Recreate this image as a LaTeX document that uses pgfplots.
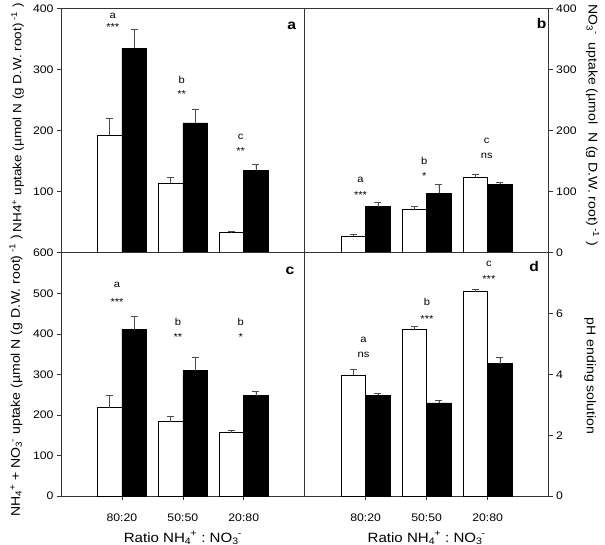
\documentclass[border=0pt]{standalone}
\usepackage{fontspec}
\setmainfont{Liberation Sans}[FakeStretch=1.12]
\usepackage{pgfplots}
\pgfplotsset{compat=1.18}
\newcommand{\subsup}[2]{\textsubscript{#1}\kern-0.06em\textsuperscript{#2}}
\pgfplotsset{
  panel/.style={scale only axis, xmin=0, xmax=4,
    axis line style={draw=black!80, line width=0.7pt},
    tick align=outside, major tick length=4bp,
    tick style={draw=black!80, line width=0.6pt},
    ticklabel style={font=\fontsize{11}{13}\selectfont},
    xticklabel style={yshift=-10bp},
    /pgf/number format/assume math mode=true,
    label style={font=\fontsize{12.6}{15}\selectfont},
    ybar, bar width=0.4, clip=false,
    error bars/y dir=plus, error bars/y explicit,
    error bars/error bar style={draw=black!70, line width=0.6pt},
    error bars/error mark options={rotate=90, draw=black!70, line width=0.6pt, mark size=3.5bp}},
  wb/.style={fill=white, draw=black, line width=0.6pt, bar shift=-0.2},
  bb/.style={fill=black, draw=black, line width=0.6pt, bar shift=0.2},
  xlab/.style={xlabel={Ratio NH\subsup{4}{+}\ :\ NO\subsup{3}{-}},
    xlabel style={at={(axis description cs:0.5,-0.172)}, anchor=center, font=\fontsize{13.5}{15}\selectfont}},
}
\tikzset{
  ann/.style={font=\fontsize{10}{12}\selectfont, anchor=base, inner sep=0pt},
  plab/.style={font=\bfseries\fontsize{14}{16}\selectfont}
}
\begin{document}
\begin{tikzpicture}
\useasboundingbox (0,0) rectangle (605bp,545bp);
% panel a
\begin{axis}[panel, at={(61bp,292.3bp)}, anchor=south west, width=243.7bp, height=244.4bp,
  ymin=0, ymax=400, ytick={100,200,300,400}, ytick pos=left, xtick=\empty,
  ylabel={NH4\textsuperscript{+} uptake (µmol N (g D.W. root)\textsuperscript{ -1} )},
  ylabel style={at={(axis description cs:-0.178,0.552)}, anchor=center, font=\fontsize{12.1}{15}\selectfont}]
\addplot[wb] coordinates {(1,192) +- (0,28) (2,114) +- (0,9) (3,32.7) +- (0,3)};
\addplot[bb] coordinates {(1,335) +- (0,30) (2,212.5) +- (0,22) (3,134.7) +- (0,10)};
\node[ann] at (axis cs:0.85,383.7) {a};
\node[ann] at (axis cs:0.85,362.9) {***};
\node[ann] at (axis cs:1.98,277) {b};
\node[ann] at (axis cs:1.98,253.8) {**};
\node[ann] at (axis cs:2.95,185) {c};
\node[ann] at (axis cs:2.95,160) {**};
\node[plab] at (rel axis cs:0.947,0.93) {a};
\end{axis}
% panel b
\begin{axis}[panel, at={(304.7bp,292.3bp)}, anchor=south west, width=244bp, height=244.4bp,
  ymin=0, ymax=400, ytick={0,100,200,300,400}, ytick pos=right, yticklabel pos=right, xtick=\empty,
  ylabel={NO\subsup{3}{-}\ \ uptake (µmol \ N (g D.W. root)\textsuperscript{ -1} )},
  ylabel style={at={(axis description cs:1.18,0.52)}, anchor=center, rotate=180}]
\addplot[wb] coordinates {(1,26.8) +- (0,3.8) (2,70.3) +- (0,5.5) (3,124.2) +- (0,4.4)};
\addplot[bb] coordinates {(1,75.2) +- (0,7.7) (2,97.1) +- (0,14.7) (3,112.3) +- (0,2.8)};
\node[ann] at (axis cs:0.915,114.4) {a};
\node[ann] at (axis cs:0.915,88.8) {***};
\node[ann] at (axis cs:1.96,144) {b};
\node[ann] at (axis cs:1.96,119.3) {*};
\node[ann] at (axis cs:2.985,178.6) {c};
\node[ann] at (axis cs:2.985,153.6) {ns};
\node[plab] at (rel axis cs:0.971,0.939) {b};
\end{axis}
% panel c
\begin{axis}[panel, xlab, at={(61bp,49bp)}, anchor=south west, width=243.7bp, height=243.3bp,
  ymin=0, ymax=600, ytick={0,100,200,300,400,500,600}, ytick pos=left,
  xtick={1,2,3}, xticklabels={80:20,50:50,20:80}, xtick pos=left,
  ylabel={NH\subsup{4}{+} + NO\subsup{3}{-} uptake (µmol N (g D.W. root)\textsuperscript{ -1} )},
  ylabel style={at={(axis description cs:-0.185,0.495)}, anchor=center}]
\addplot[wb] coordinates {(1,217.8) +- (0,29.5) (2,183.2) +- (0,12.4) (3,156.1) +- (0,6)};
\addplot[bb] coordinates {(1,410) +- (0,32) (2,309) +- (0,34) (3,247.3) +- (0,11.7)};
\node[ann] at (axis cs:0.92,515.4) {a};
\node[ann] at (axis cs:0.92,469.4) {***};
\node[ann] at (axis cs:1.92,419.5) {b};
\node[ann] at (axis cs:1.92,383.5) {**};
\node[ann] at (axis cs:2.95,419.5) {b};
\node[ann] at (axis cs:2.95,383.5) {*};
\node[plab] at (rel axis cs:0.94,0.926) {c};
\end{axis}
% panel d
\begin{axis}[panel, xlab, at={(304.7bp,49bp)}, anchor=south west, width=244bp, height=243.3bp,
  ymin=0, ymax=8, ytick={0,2,4,6}, ytick pos=right, yticklabel pos=right,
  xtick={1,2,3}, xticklabels={80:20,50:50,20:80}, xtick pos=left,
  ylabel={pH ending solution},
  ylabel style={at={(axis description cs:1.17,0.493)}, anchor=center, rotate=180}]
\addplot[wb] coordinates {(1,3.97) +- (0,0.2) (2,5.47) +- (0,0.11) (3,6.72) +- (0,0.09)};
\addplot[bb] coordinates {(1,3.31) +- (0,0.07) (2,3.06) +- (0,0.09) (3,4.35) +- (0,0.21)};
\node[ann] at (axis cs:0.964,5.06) {a};
\node[ann] at (axis cs:0.964,4.55) {ns};
\node[ann] at (axis cs:2.005,6.25) {b};
\node[ann] at (axis cs:2.005,5.72) {***};
\node[ann] at (axis cs:3.02,7.54) {c};
\node[ann] at (axis cs:3.02,7.02) {***};
\node[plab] at (rel axis cs:0.94,0.945) {d};
\end{axis}
\end{tikzpicture}
\end{document}
